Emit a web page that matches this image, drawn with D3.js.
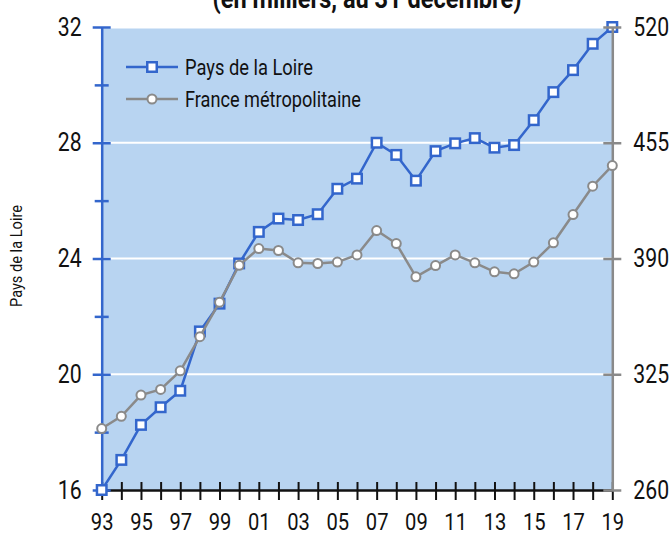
<!DOCTYPE html>
<html>
<head>
<meta charset="utf-8">
<script src="https://cdn.jsdelivr.net/npm/d3@7"></script>
<style>
  html, body { margin: 0; padding: 0; background: #fff; }
  svg { display: block; }
  text { font-family: Roboto, "Liberation Sans", sans-serif; fill: #111; }
</style>
</head>
<body>
<svg id="chart" width="670" height="534"></svg>
<script>
// données
const years = d3.range(1993, 2020);
const paysLoire = [16.0, 17.04, 18.25, 18.86, 19.43, 21.48, 22.44, 23.83, 24.92, 25.38,
                   25.33, 25.53, 26.41, 26.76, 28.0, 27.58, 26.69, 27.71, 27.98, 28.16,
                   27.83, 27.92, 28.78, 29.75, 30.51, 31.42, 32.0];
const franceMetro = [294.5, 301.4, 313.3, 316.5, 326.9, 346.1, 365.5, 386.2, 395.6, 394.5,
                     387.6, 387.2, 388.0, 392.0, 405.7, 398.4, 379.7, 386.0, 392.0, 387.6,
                     382.5, 381.4, 388.0, 398.8, 414.7, 430.6, 442.2];
const leftTicks = [16, 18, 20, 22, 24, 26, 28, 30, 32];
const rightTicks = [260, 325, 390, 455, 520];
const gridValues = [20, 24, 28];
const seriesNames = ["Pays de la Loire", "France métropolitaine"];

const blue = "#3366cc";
const grey = "#8a8a8a";

// marges
const margin = { top: 27, bottom: 44, left: 101.7, right: 57.7 };
const width = 670, height = 534;

const svg = d3.select("#chart");

// police étroite : on resserre les glyphes (facteur f ou largeur fixe w)
// et on recalcule x pour garder l'ancrage
function squeeze(sel, anchor, f, w) {
    sel.each(function () {
        const t = d3.select(this);
        const l = this.getComputedTextLength();
        if (!(l > 0)) return;
        const nl = w || l * f;
        const x0 = +t.attr("x") || 0;
        const shift = anchor === "middle" ? nl / 2 : anchor === "end" ? nl : 0;
        t.attr("text-anchor", "start")
         .attr("x", x0 - shift)
         .attr("textLength", nl)
         .attr("lengthAdjust", "spacingAndGlyphs");
    });
}

const x = d3.scaleLinear().domain([1993, 2019]).range([margin.left, width - margin.right]);
const yL = d3.scaleLinear().domain([16, 32]).range([height - margin.bottom, margin.top]);
const yR = d3.scaleLinear().domain([260, 520]).range([height - margin.bottom, margin.top]);

// titre (coupé en haut)
svg.append("text")
    .attr("x", 367)
    .attr("y", 8)
    .style("font-weight", "bold")
    .style("font-size", "27px")
    .text("(en milliers, au 31 décembre)")
    .call(squeeze, "middle", 1, 309);

// fond
svg.append("rect")
    .attr("x", x(1993))
    .attr("y", yL(32) + 1.5)
    .attr("width", x(2019) - x(1993))
    .attr("height", yL(16) - yL(32) - 1.5)
    .attr("fill", "#b8d4f1");

// grille
svg.selectAll(".grid")
    .data(gridValues)
    .enter()
    .append("line")
    .attr("x1", x(1993))
    .attr("x2", x(2019))
    .attr("y1", d => yL(d))
    .attr("y2", d => yL(d))
    .attr("stroke", "#fff")
    .attr("stroke-width", 2);

// axe X
const xAxis = d3.axisBottom(x)
    .tickValues(years)
    .tickFormat(d => (d - 1993) % 2 === 0 ? String(d).slice(2) : "")
    .tickSize(10)
    .tickSizeOuter(0)
    .tickPadding(13);
const gx = svg.append("g")
    .attr("transform", `translate(0, ${yL(16)})`)
    .call(xAxis);
gx.select(".domain").attr("stroke", "#111").attr("stroke-width", 2.5);
gx.selectAll(".tick line").attr("y1", -8).attr("stroke", "#111").attr("stroke-width", 2);
gx.selectAll(".tick text").style("font-size", "24px").attr("fill", "#111")
    .call(squeeze, "middle", 0.84);

// axe gauche
const yAxisL = d3.axisLeft(yL)
    .tickValues(leftTicks)
    .tickFormat(d => d % 4 === 0 ? d : "")
    .tickSize(9)
    .tickSizeOuter(0)
    .tickPadding(11);
const gl = svg.append("g")
    .attr("transform", `translate(${x(1993)}, 0)`)
    .call(yAxisL);
gl.select(".domain").attr("stroke", blue).attr("stroke-width", 2.5);
gl.selectAll(".tick line")
    .attr("x1", d => d % 4 === 0 ? 9 : 7)
    .attr("x2", d => d % 4 === 0 ? -9 : -7)
    .attr("stroke", blue)
    .attr("stroke-width", 2.5);
gl.selectAll(".tick text").style("font-size", "25px").attr("fill", "#111")
    .call(squeeze, "end", 0.85);

// titre axe gauche
svg.append("text")
    .attr("transform", `translate(22, 256) rotate(-90)`)
    .attr("x", 0)
    .style("font-size", "17px")
    .text(seriesNames[0])
    .call(squeeze, "middle", 1, 102);

const lineL = d3.line().x((d, i) => x(years[i])).y(d => yL(d));
const lineR = d3.line().x((d, i) => x(years[i])).y(d => yR(d));

// série Pays de la Loire
svg.append("path")
    .datum(paysLoire)
    .attr("d", lineL)
    .attr("fill", "none")
    .attr("stroke", blue)
    .attr("stroke-width", 2.5);
svg.selectAll(".sq")
    .data(paysLoire)
    .enter()
    .append("rect")
    .attr("x", (d, i) => x(years[i]) - 4.75)
    .attr("y", d => yL(d) - 4.75)
    .attr("width", 9.5)
    .attr("height", 9.5)
    .attr("fill", "#fff")
    .attr("stroke", blue)
    .attr("stroke-width", 2.5);

// axe droit
const yAxisR = d3.axisRight(yR)
    .tickValues(rightTicks)
    .tickSize(9)
    .tickSizeOuter(0)
    .tickPadding(12);
const gr = svg.append("g")
    .attr("transform", `translate(${x(2019)}, 0)`)
    .call(yAxisR);
gr.select(".domain").attr("stroke", grey).attr("stroke-width", 2.5);
gr.selectAll(".tick line").attr("x1", -9).attr("stroke", grey).attr("stroke-width", 2.5);
gr.selectAll(".tick text").style("font-size", "25px").attr("fill", "#111")
    .call(squeeze, "start", 0.85);

// série France métropolitaine
svg.append("path")
    .datum(franceMetro)
    .attr("d", lineR)
    .attr("fill", "none")
    .attr("stroke", grey)
    .attr("stroke-width", 2.5);
svg.selectAll(".dot")
    .data(franceMetro)
    .enter()
    .append("circle")
    .attr("cx", (d, i) => x(years[i]))
    .attr("cy", d => yR(d))
    .attr("r", 4.5)
    .attr("fill", "#fff")
    .attr("stroke", grey)
    .attr("stroke-width", 2);

// légende
const legend = svg.append("g");
const legendItems = [
    { name: seriesNames[0], color: blue, shape: "square", y: 67, w: 128 },
    { name: seriesNames[1], color: grey, shape: "circle", y: 99, w: 176 }
];
legendItems.forEach(it => {
    legend.append("line")
        .attr("x1", 126).attr("x2", 178)
        .attr("y1", it.y).attr("y2", it.y)
        .attr("stroke", it.color)
        .attr("stroke-width", 2.5);
    if (it.shape === "square") {
        legend.append("rect")
            .attr("x", 152 - 4.75).attr("y", it.y - 4.75)
            .attr("width", 9.5).attr("height", 9.5)
            .attr("fill", "#fff").attr("stroke", it.color).attr("stroke-width", 2.5);
    } else {
        legend.append("circle")
            .attr("cx", 152).attr("cy", it.y).attr("r", 4.5)
            .attr("fill", "#fff").attr("stroke", it.color).attr("stroke-width", 2);
    }
    legend.append("text")
        .attr("x", 185)
        .attr("y", it.y + 8)
        .style("font-size", "22px")
        .text(it.name)
        .call(squeeze, "start", 1, it.w);
});
</script>
</body>
</html>
